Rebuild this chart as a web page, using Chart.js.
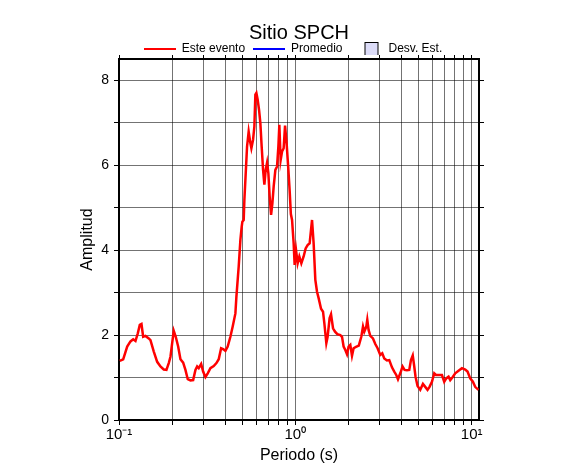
<!DOCTYPE html>
<html>
<head>
<meta charset="utf-8">
<script src="https://cdn.jsdelivr.net/npm/chart.js@4"></script>
<style>
html, body { margin: 0; padding: 0; background: #fff; }
</style>
</head>
<body>
<canvas id="spectro" width="586" height="475"></canvas>
<script>
// periodo (s) y amplitud
var periods = [0.101,0.1056,0.1113,0.1162,0.1203,0.124,0.1278,0.1312,0.1341,0.1371,
    0.1413,0.1475,0.1508,0.1575,0.1646,0.1718,0.1794,0.1858,0.1915,0.1958,
    0.2002,0.2044,0.2098,0.2165,0.2231,0.2311,0.2381,0.2454,0.2542,0.2633,
    0.2713,0.2774,0.2832,0.2923,0.3,0.3091,0.3185,0.3299,0.3444,0.3568,
    0.3677,0.3793,0.3894,0.4012,0.4134,0.4282,0.4413,0.4571,0.4631,0.4772,
    0.4879,0.4963,0.5008,0.5094,0.514,0.5208,0.5323,0.5436,0.5559,0.5632,
    0.5757,0.5856,0.5933,0.6012,0.6115,0.6226,0.6333,0.6442,0.6561,0.6674,
    0.6788,0.6914,0.7031,0.7152,0.7284,0.7409,0.7536,0.7704,0.7876,0.8011,
    0.8115,0.8254,0.8407,0.8584,0.8742,0.8927,0.9127,0.9283,0.943,0.9579,
    0.9781,0.9908,1.0092,1.0304,1.0536,1.0814,1.1143,1.1439,1.1741,1.205,
    1.2274,1.2434,1.2697,1.2981,1.3271,1.3552,1.3984,1.4353,1.46,1.4985,
    1.5241,1.5644,1.5934,1.6355,1.6787,1.7298,1.7989,1.8391,1.878,1.92,
    1.963,2.0045,2.0493,2.0951,2.1394,2.2074,2.2897,2.3655,2.4187,2.4598,
    2.5251,2.558,2.6019,2.6601,2.7553,2.8396,2.9262,3.0309,3.111,3.1932,
    3.3075,3.4089,3.531,3.6384,3.7344,3.8186,3.9349,4.0545,4.1621,4.2945,
    4.4252,4.5241,4.6314,4.723,4.8041,4.9312,5.1075,5.2905,5.4514,5.618,
    5.7663,5.9498,6.1311,6.2696,6.4857,6.7805,6.9866,7.1711,7.3904,7.5559,
    7.8265,8.0645,8.42,8.8032,9.1895,9.469,9.8062,10.158,10.466,10.926]

var amplitudes = [1.39,1.43,1.73,1.85,1.90,1.86,2.04,2.24,2.26,1.96,
    1.98,1.92,1.88,1.61,1.37,1.26,1.19,1.18,1.34,1.49,
    1.81,2.10,1.96,1.73,1.43,1.35,1.18,0.96,0.93,0.94,
    1.18,1.26,1.22,1.32,1.14,1.01,1.10,1.22,1.27,1.34,
    1.43,1.69,1.67,1.63,1.73,1.96,2.20,2.51,2.90,3.61,
    4.24,4.55,4.67,4.71,5.18,5.65,6.44,6.79,6.52,6.40,
    6.60,6.91,7.66,7.70,7.54,7.30,6.99,6.44,5.89,5.54,
    5.89,6.06,5.81,5.26,4.83,5.10,5.50,5.89,5.97,6.44,
    6.95,6.12,6.32,6.40,6.93,6.50,5.90,5.40,4.85,4.71,
    4.16,3.65,4.00,3.69,3.85,3.69,3.85,4.04,4.12,4.16,
    4.48,4.71,4.16,3.30,3.02,2.87,2.62,2.55,2.28,1.81,
    1.96,2.40,2.49,2.16,2.08,2.02,2.00,1.96,1.73,1.65,
    1.55,1.73,1.77,1.51,1.69,1.72,1.75,1.96,2.20,2.08,
    2.20,2.36,2.12,1.98,1.92,1.79,1.69,1.53,1.57,1.45,
    1.40,1.41,1.24,1.14,1.06,0.96,1.10,1.26,1.18,1.17,
    1.18,1.41,1.52,1.26,1.02,0.80,0.71,0.85,0.78,0.71,
    0.78,0.90,1.10,1.06,1.06,1.06,0.90,0.98,1.02,0.94,
    1.02,1.10,1.16,1.22,1.19,1.14,0.98,0.90,0.78,0.71]

var seriesNames = ['Este evento', 'Promedio', 'Desv. Est.']
var xTicks = [0.1,0.2,0.3,0.4,0.5,0.6,0.7,0.8,0.9,1,2,3,4,5,6,7,8,9,10]
var xTickLabels = {'0.1': '10\u207B\u00B9', '1': '10\u2070', '10': '10\u00B9'}
var yTicks = [0,1,2,3,4,5,6,7,8]
var yTickLabels = [0,2,4,6,8]

Chart.defaults.font.family = "'Liberation Sans', Arial, sans-serif"
Chart.defaults.color = '#000'

// iconos de la leyenda
function lineIcon(color) {
    var c = document.createElement('canvas')
    c.width = 32; c.height = 2
    var g = c.getContext('2d')
    g.fillStyle = color
    g.fillRect(0, 0, 32, 2)
    return c
}
function boxIcon(color) {
    var c = document.createElement('canvas')
    c.width = 32; c.height = 14
    var g = c.getContext('2d')
    g.fillStyle = color
    g.fillRect(15, 1, 12, 12)
    g.strokeStyle = '#000'
    g.lineWidth = 1
    g.strokeRect(14.5, 0.5, 13, 13)
    return c
}

var points = []
for (var i = 0; i < periods.length; i++) {
    points.push({x: periods[i], y: amplitudes[i]})
}

function setXTicks(axis) {
    axis.ticks = xTicks.map(function (v) { return {value: v} })
}
function setYTicks(axis) {
    axis.ticks = yTicks.map(function (v) { return {value: v} })
}

var gridColor = 'rgba(0,0,0,0.55)'

new Chart(document.getElementById('spectro'), {
    type: 'line',
    data: {
        datasets: [{
            label: seriesNames[0],
            data: points,
            borderColor: '#ff0000',
            borderWidth: 2.5,
            pointRadius: 0,
            pointStyle: lineIcon('#ff0000'),
            tension: 0
        }, {
            label: seriesNames[1],
            data: [],
            borderColor: '#0000ff',
            pointRadius: 0,
            pointStyle: lineIcon('#0000ff')
        }, {
            label: seriesNames[2],
            data: [],
            borderColor: '#000',
            backgroundColor: '#dcdcf8',
            pointRadius: 0,
            pointStyle: boxIcon('#dcdcf8')
        }]
    },
    options: {
        responsive: false,
        animation: false,
        layout: { padding: 0 },
        scales: {
            x: {
                type: 'logarithmic',
                position: 'bottom',
                min: 0.1,
                max: 11,
                afterBuildTicks: setXTicks,
                afterFit: function (s) { s.height = 55 },
                ticks: {
                    autoSkip: false,
                    maxRotation: 0,
                    padding: 1,
                    font: { size: 15 },
                    callback: function (v) { return xTickLabels[String(v)] || '' }
                },
                grid: { color: gridColor, lineWidth: 1, tickColor: '#000', tickLength: 5 },
                border: { display: true, color: '#000', width: 2 },
                title: { display: true, text: 'Periodo (s)', font: { size: 16 }, padding: { top: 0, bottom: 9.4 } }
            },
            x2: {
                type: 'logarithmic',
                position: 'top',
                min: 0.1,
                max: 11,
                afterBuildTicks: setXTicks,
                afterFit: function (s) { s.height = 4 },
                ticks: { display: false, autoSkip: false },
                grid: { drawOnChartArea: false, tickColor: '#000', tickLength: 4 },
                border: { display: true, color: '#000', width: 2 }
            },
            y: {
                type: 'linear',
                position: 'left',
                min: 0,
                max: 8.5,
                afterBuildTicks: setYTicks,
                afterFit: function (s) { s.width = 119 },
                ticks: {
                    padding: 5,
                    font: { size: 14 },
                    callback: function (v) { return yTickLabels.indexOf(v) >= 0 ? String(v) : '' }
                },
                grid: { color: gridColor, lineWidth: 1, tickColor: '#000', tickLength: 5 },
                border: { display: true, color: '#000', width: 2 },
                title: { display: true, text: 'Amplitud', font: { size: 16 }, padding: { top: 78.4, bottom: 0 } }
            },
            y2: {
                type: 'linear',
                position: 'right',
                min: 0,
                max: 8.5,
                afterBuildTicks: setYTicks,
                afterFit: function (s) { s.width = 107 },
                ticks: { display: false },
                grid: { drawOnChartArea: false, tickColor: '#000', tickLength: 5 },
                border: { display: true, color: '#000', width: 2 }
            }
        },
        plugins: {
            title: {
                display: true,
                fullSize: false,
                text: 'Sitio SPCH',
                color: '#000',
                font: { size: 20, weight: 'normal', lineHeight: 1 },
                padding: { top: 23, bottom: -8 }
            },
            legend: {
                display: true,
                position: 'top',
                maxHeight: 20,
                labels: {
                    usePointStyle: true,
                    pointStyleWidth: 32,
                    padding: 8,
                    color: '#000',
                    font: { size: 12 }
                }
            },
            tooltip: { enabled: false }
        }
    }
})
</script>
</body>
</html>
